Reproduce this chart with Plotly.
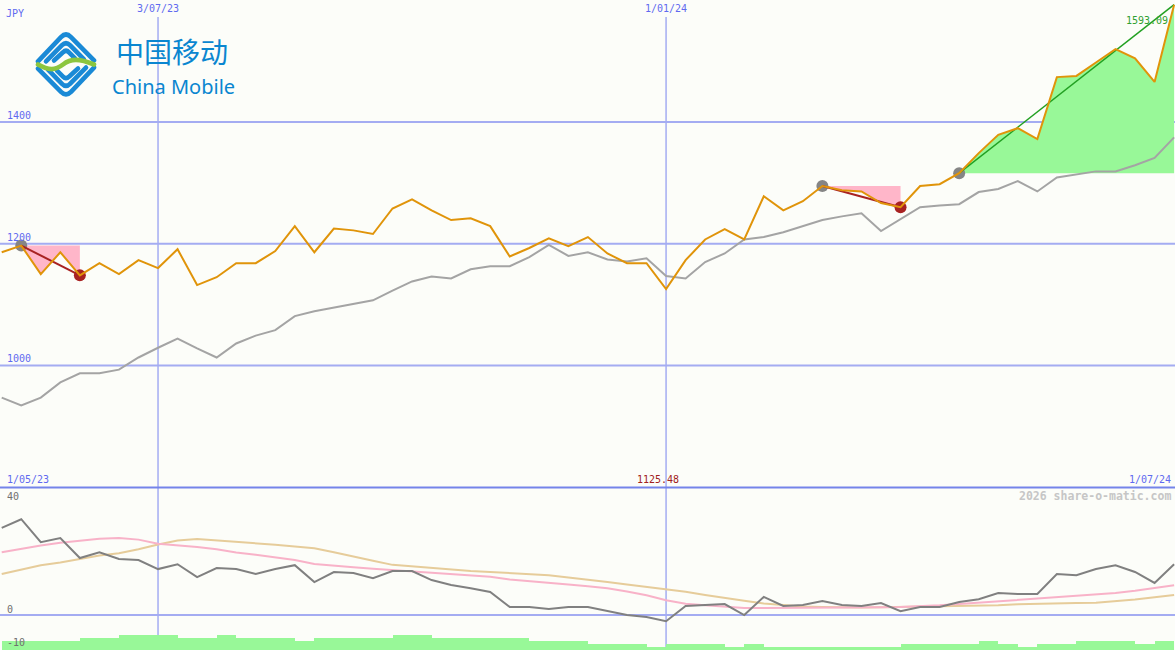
import base64
import pandas as pd
import plotly.graph_objects as go

W, H = 1175, 650

# ---------------- data ----------------
dates = pd.date_range("2023-05-08", periods=61, freq="7D")

price = [1186, 1197, 1150, 1186, 1148, 1168, 1150, 1173, 1160, 1191,
         1132, 1145, 1168, 1168, 1188, 1229, 1186, 1225, 1222, 1216,
         1258, 1273, 1255, 1239, 1242, 1229, 1179, 1193, 1209, 1196,
         1211, 1184, 1168, 1168, 1125.48, 1173, 1207, 1224, 1207, 1278,
         1255, 1270, 1295, 1288, 1286, 1267, 1260, 1295, 1298, 1316,
         1349, 1379, 1390, 1372, 1474, 1476, 1498, 1520, 1505, 1466,
         1593.09]

index_line = [947, 934, 947, 972, 987, 987, 993, 1013, 1029, 1044,
              1028, 1013, 1036, 1049, 1058, 1081, 1089, 1095, 1102, 1107,
              1123, 1138, 1146, 1143, 1158, 1163, 1163, 1178, 1198, 1180,
              1186, 1174, 1171, 1176, 1147, 1143, 1170, 1184, 1207, 1211,
              1219, 1229, 1239, 1245, 1250, 1221, 1240, 1260, 1263, 1265,
              1285, 1290, 1303, 1286, 1309, 1314, 1319, 1319, 1329, 1341,
              1375]

osc = [26.9, 29.6, 22.5, 23.8, 17.6, 19.4, 17.3, 17.0, 14.2, 15.7,
       11.7, 14.5, 14.2, 12.7, 14.2, 15.4, 10.2, 13.3, 13.0, 11.4,
       13.6, 13.6, 10.8, 9.3, 8.3, 7.1, 2.5, 2.5, 1.9, 2.5,
       2.5, 1.2, 0.0, -0.6, -1.9, 2.8, 3.1, 3.4, 0.0, 5.6,
       2.8, 3.1, 4.3, 3.1, 2.8, 3.7, 1.2, 2.5, 2.5, 4.0,
       4.9, 6.8, 6.5, 6.5, 12.7, 12.3, 14.2, 15.4, 13.3, 9.9,
       15.7]

osc_fast = [19.4, 20.5, 21.5, 22.3, 23.0, 23.6, 23.8, 23.3, 22.0, 21.6,
            21.0, 20.3, 19.3, 18.6, 17.9, 17.0, 15.8, 15.2, 14.8, 14.3,
            13.9, 13.3, 13.0, 12.6, 12.1, 11.8, 11.0, 10.4, 10.0, 9.4,
            8.9, 8.3, 7.3, 6.1, 4.6, 3.5, 3.0, 2.6, 2.2, 2.2,
            2.2, 2.2, 2.2, 2.3, 2.4, 2.4, 2.5, 2.7, 3.0, 3.4,
            3.8, 4.3, 4.7, 5.0, 5.4, 5.9, 6.2, 6.8, 7.5, 8.3,
            9.2]

osc_slow = [12.7, 14.0, 15.4, 16.2, 17.3, 18.4, 19.1, 20.3, 21.8, 23.0,
            23.5, 23.1, 22.6, 22.2, 21.7, 21.2, 20.6, 19.4, 18.2, 16.8,
            15.5, 15.0, 14.5, 14.0, 13.6, 13.3, 12.9, 12.7, 12.3, 11.6,
            11.0, 10.2, 9.4, 8.7, 8.0, 7.2, 6.2, 5.2, 4.4, 3.6,
            3.1, 2.6, 2.5, 2.3, 2.3, 2.4, 2.5, 2.5, 2.6, 2.7,
            2.8, 3.0, 3.3, 3.5, 3.6, 3.7, 3.8, 4.2, 4.8, 5.5,
            6.2]

volume = [3, 3, 3, 3, 4, 4, 5, 5, 5, 4,
          4, 5, 4, 4, 4, 3, 4, 4, 4, 4,
          5, 5, 4, 4, 4, 4, 4, 3, 3, 3,
          2, 2, 2, 1, 2, 2, 2, 1, 2, 1,
          1, 1, 1, 1, 1, 1, 2, 2, 2, 2,
          3, 2, 1, 2, 2, 3, 3, 3, 2, 3]

price_ticks = [1400, 1200, 1000]
osc_ticks = [40, 0, -10]

# drawdown / rise episodes (start index, end index)
drawdowns = [(1, 4), (42, 46)]
rise = (49, 60)

# ---------------- colours ----------------
BG = "#fcfdf9"
GRID = "#a4acf2"
DIV = "#7484ea"
LBL = "#5f6af0"
ORANGE = "#e0940a"
GRAY = "#a4a4a4"

fig = go.Figure()

# volume bars (bottom)
vol_x = [d + pd.Timedelta(days=3.5) for d in dates[:-1]]
fig.add_trace(go.Bar(x=vol_x, y=volume, width=7 * 24 * 3600 * 1000,
                     marker=dict(color="#98f898", line=dict(width=0)),
                     xaxis="x", yaxis="y3", hoverinfo="skip"))

# rise fill
s, e = rise
fx = [dates[s], dates[e]] + [dates[i] for i in range(e, s - 1, -1)]
fy = [price[s], price[s]] + [price[i] for i in range(e, s - 1, -1)]
fig.add_trace(go.Scatter(x=fx, y=fy, fill="toself", fillcolor="#98f898",
                         line=dict(width=0), mode="lines", hoverinfo="skip"))

# drawdown fills
for s, e in drawdowns:
    fx = [dates[s], dates[e]] + [dates[i] for i in range(e, s - 1, -1)]
    fy = [price[s], price[s]] + [price[i] for i in range(e, s - 1, -1)]
    fig.add_trace(go.Scatter(x=fx, y=fy, fill="toself", fillcolor="#ffb6c9",
                             line=dict(width=0), mode="lines", hoverinfo="skip"))

# index line
fig.add_trace(go.Scatter(x=dates, y=index_line, mode="lines",
                         line=dict(color=GRAY, width=2), hoverinfo="skip"))

# start dots
starts = [drawdowns[0][0], drawdowns[1][0], rise[0]]
fig.add_trace(go.Scatter(x=[dates[i] for i in starts], y=[price[i] for i in starts],
                         mode="markers", marker=dict(color="#858585", size=12),
                         hoverinfo="skip"))
ends = [drawdowns[0][1], drawdowns[1][1]]
fig.add_trace(go.Scatter(x=[dates[i] for i in ends], y=[price[i] for i in ends],
                         mode="markers", marker=dict(color="#a82222", size=12),
                         hoverinfo="skip"))

# drawdown lines
for s, e in drawdowns:
    fig.add_trace(go.Scatter(x=[dates[s], dates[e]], y=[price[s], price[e]],
                             mode="lines", line=dict(color="#a82222", width=2),
                             hoverinfo="skip"))
# rise line
s, e = rise
fig.add_trace(go.Scatter(x=[dates[s], dates[e]], y=[price[s], price[e]],
                         mode="lines", line=dict(color="#22a022", width=1.5),
                         hoverinfo="skip"))

# price line
fig.add_trace(go.Scatter(x=dates, y=price, mode="lines",
                         line=dict(color=ORANGE, width=2), hoverinfo="skip"))

# oscillators
fig.add_trace(go.Scatter(x=dates, y=osc_slow, mode="lines", yaxis="y2",
                         line=dict(color="#e6cc9a", width=2), hoverinfo="skip"))
fig.add_trace(go.Scatter(x=dates, y=osc_fast, mode="lines", yaxis="y2",
                         line=dict(color="#f8b2c8", width=2), hoverinfo="skip"))
fig.add_trace(go.Scatter(x=dates, y=osc, mode="lines", yaxis="y2",
                         line=dict(color="#808080", width=2), hoverinfo="skip"))

# ---------------- layout ----------------
split = 1 - 487.5 / H
shapes = []
for t in price_ticks:
    shapes.append(dict(type="line", xref="paper", yref="y", x0=0, x1=1, y0=t, y1=t,
                       line=dict(color=GRID, width=2), layer="below"))
shapes.append(dict(type="line", xref="paper", yref="y2", x0=0, x1=1, y0=0, y1=0,
                   line=dict(color=GRID, width=2), layer="below"))
for d in ["2023-07-03", "2024-01-01"]:
    shapes.append(dict(type="line", xref="x", yref="paper", x0=d, x1=d,
                       y0=0, y1=1 - 17 / H, line=dict(color=GRID, width=1.5),
                       layer="below"))
shapes.append(dict(type="line", xref="paper", yref="paper", x0=0, x1=1,
                   y0=split, y1=split, line=dict(color=DIV, width=2)))

MONO = "DejaVu Sans Mono"
ann = []


def px(x, y, text, color=LBL, size=10, xanchor="left", yanchor="middle", bold=False, family=MONO):
    ann.append(dict(xref="paper", yref="paper", x=x / W, y=1 - y / H,
                    text=("<b>%s</b>" % text) if bold else text,
                    showarrow=False, xanchor=xanchor, yanchor=yanchor, borderpad=0,
                    font=dict(family=family, size=size, color=color)))


px(5, 13, "JPY")
for t in price_ticks:
    ann.append(dict(xref="paper", yref="y", x=5 / W, y=t, text=str(t), showarrow=False,
                    xanchor="left", yanchor="bottom", yshift=-1,
                    font=dict(family=MONO, size=10, color=LBL)))
for d, lab in [("2023-07-03", "3/07/23"), ("2024-01-01", "1/01/24")]:
    ann.append(dict(xref="x", yref="paper", x=d, y=1 - 8 / H, text=lab, showarrow=False,
                    xanchor="center", yanchor="middle",
                    font=dict(family=MONO, size=10, color=LBL)))
px(6, 479, "1/05/23")
px(1172, 479, "1/07/24", xanchor="right")
ann.append(dict(xref="x", yref="paper", x=dates[34], y=1 - 479 / H, text="1125.48",
                showarrow=False, xanchor="center", yanchor="middle", xshift=-8,
                font=dict(family=MONO, size=10, color="#a02020")))
px(1169, 20, "1593.09", color="#30a030", xanchor="right")
px(1172, 496, "2026 share-o-matic.com", color="#c6c6c6", size=11.5, xanchor="right", bold=True)
px(6, 496, "40", color="#707070")
px(6, 609, "0", color="#707070")
px(6, 642, "-10", color="#707070")

# logo text
px(172, 72, "中国移动", color="#0a86d0", size=28, xanchor="center", yanchor="bottom",
   family="Noto Sans CJK SC")
px(173, 72, "China Mobile", color="#0a86d0", size=20, xanchor="center", yanchor="top",
   family="Noto Sans")

# emblem as inline svg
svg = """<svg xmlns='http://www.w3.org/2000/svg' viewBox='0 0 62 64' width='62' height='64'>
<g fill='none' stroke='#1a8ad6' stroke-width='4.6' stroke-linecap='round' stroke-linejoin='round'>
<path d='M3,29 L26,5 Q31,0 36,5 L59,28'/>
<path d='M11,29 L27,13 Q31,9 35,13 L49,27'/>
<path d='M19,28 L28,20 Q31,17 34,20 L40,26'/>
<path d='M59,35 L36,59 Q31,64 26,59 L3,36'/>
<path d='M51,35 L35,51 Q31,55 27,51 L13,37'/>
<path d='M43,36 L34,44 Q31,47 28,44 L22,38'/>
</g>
<path d='M3,32 C14,38 20,38 28,32 C36,26 44,26 59,32' fill='none' stroke='#8cc63f' stroke-width='4.6' stroke-linecap='round'/>
</svg>"""
src = "data:image/svg+xml;base64," + base64.b64encode(svg.encode()).decode()

fig.update_layout(
    width=W, height=H, margin=dict(l=0, r=0, t=0, b=0),
    paper_bgcolor=BG, plot_bgcolor=BG, showlegend=False, bargap=0,
    xaxis=dict(type="date", range=["2023-05-07 09:20", "2024-07-01 07:40"],
               visible=False, showgrid=False, zeroline=False),
    yaxis=dict(domain=[split, 1], range=[799.2, 1600.8], visible=False,
               showgrid=False, zeroline=False),
    yaxis2=dict(domain=[0, split], range=[-10.8, 39.4], visible=False,
                showgrid=False, zeroline=False, anchor="x"),
    yaxis3=dict(domain=[0, split], range=[0, 54], visible=False,
                showgrid=False, zeroline=False, anchor="x", overlaying="y2"),
    shapes=shapes, annotations=ann,
    images=[dict(source=src, xref="paper", yref="paper", x=35 / W, y=1 - 32 / H,
                 sizex=62 / W, sizey=65 / H, xanchor="left", yanchor="top",
                 sizing="stretch", layer="above")],
)

fig.write_html("out.html", config={"displayModeBar": False},
               post_script="document.body.style.margin='0';document.body.style.overflow='hidden';")
